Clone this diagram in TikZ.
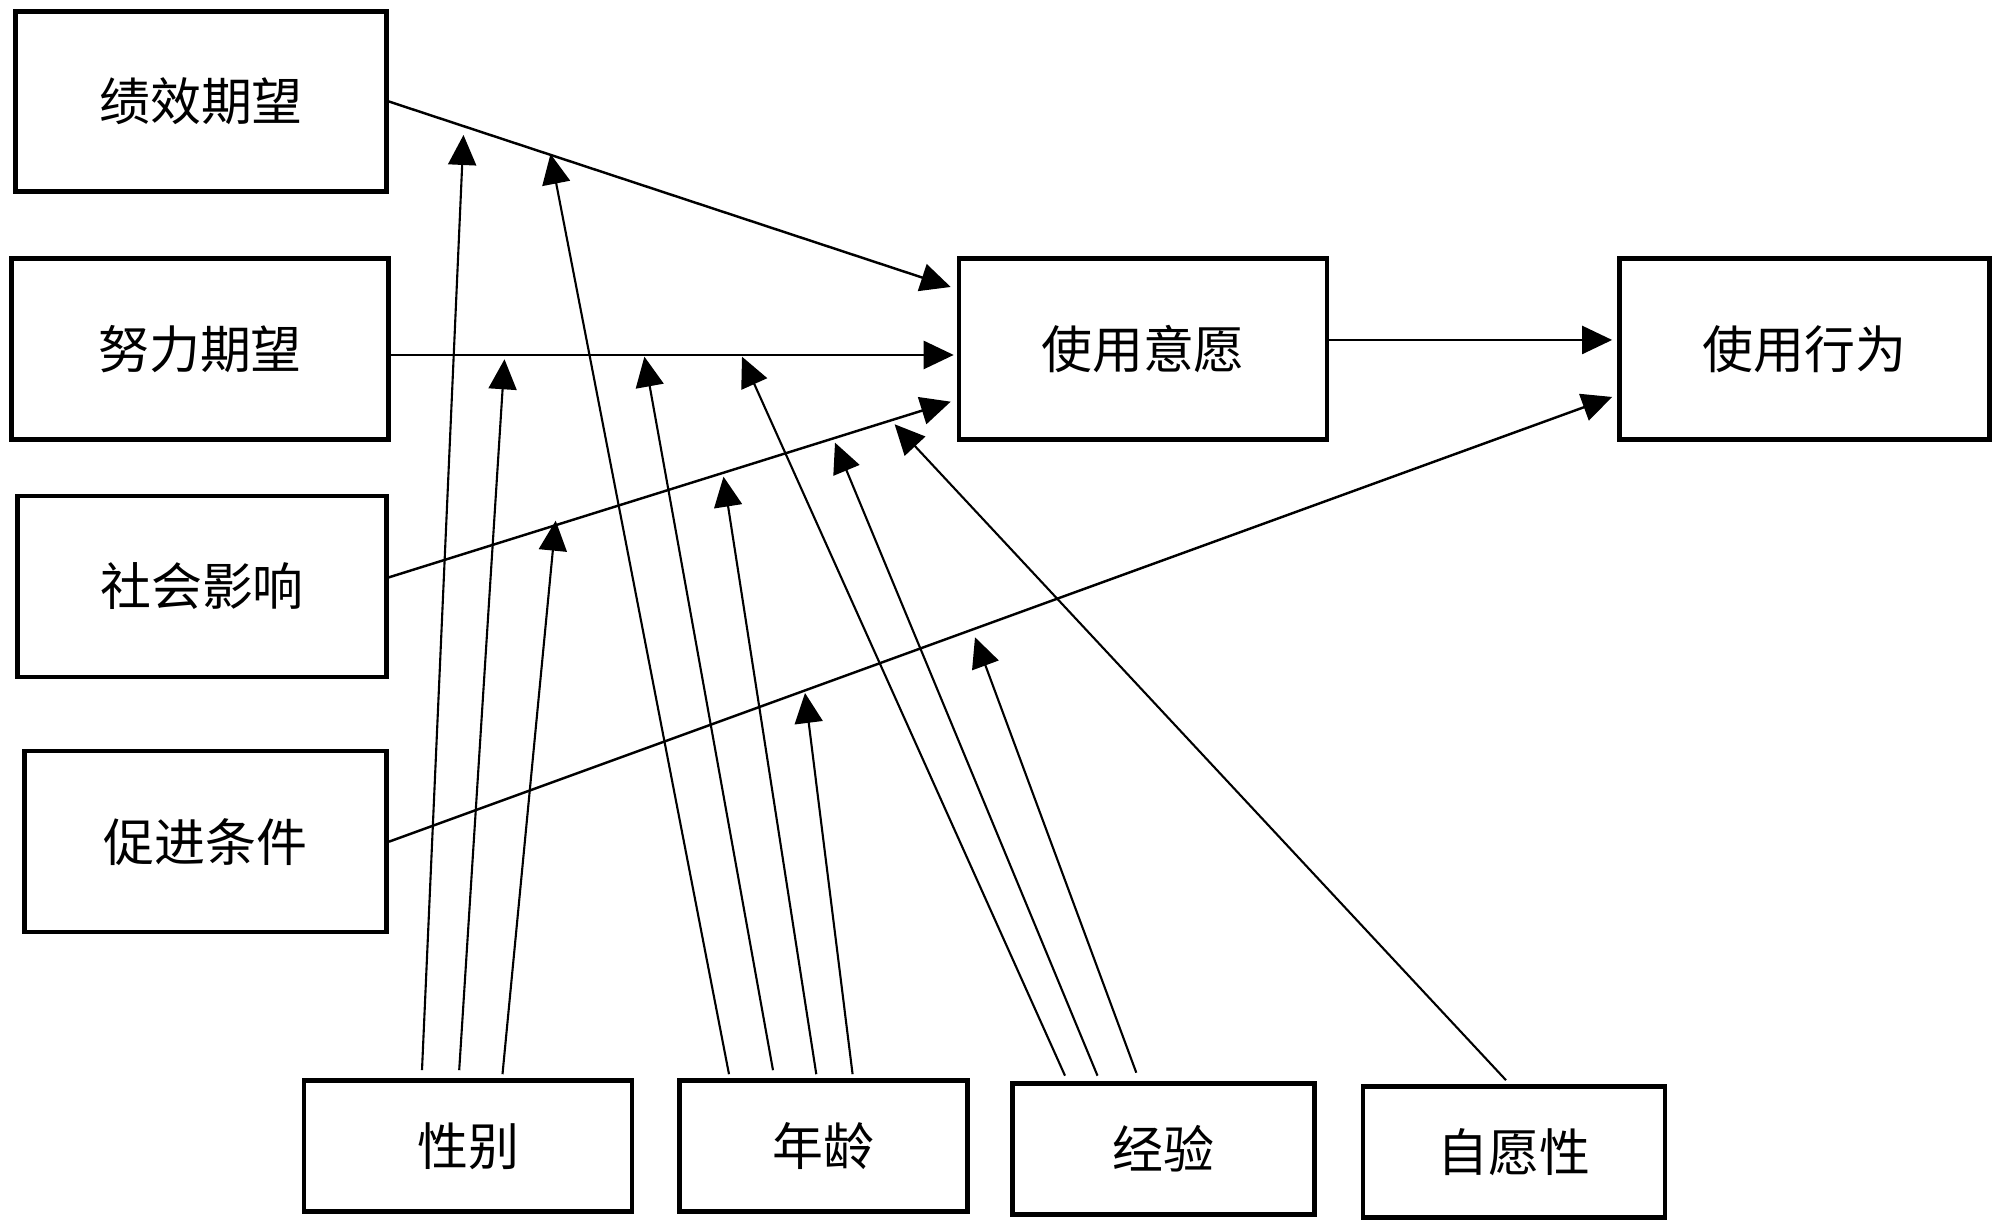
\documentclass[tikz,border=0pt]{standalone}
\usepackage{fontspec}
\setmainfont{Noto Sans CJK SC}
\usetikzlibrary{arrows.meta}

\begin{document}
\begin{tikzpicture}[factor/.style={draw, line width=1.3pt, inner sep=0pt, minimum height=1.81cm, font=\fontsize{14.5}{17}\selectfont},
    moderator/.style={factor, minimum height=1.31cm},
    link/.style={line width=0.7pt, -{Triangle[length=3mm,width=2.8mm]}},
    moder/.style={line width=0.6pt, -{Triangle[length=3mm,width=2.8mm]}}]
        \useasboundingbox (0,0) rectangle (20,12.31);

        \node[factor, minimum width=3.71cm, minimum height=1.8cm] (pe) at (2.01,11.295) {绩效期望};
        \node[factor, minimum width=3.77cm] (ee) at (2.00,8.82) {努力期望};
        \node[factor, minimum width=3.69cm] (si) at (2.02,6.446) {社会影响};
        \node[factor, minimum width=3.62cm] (fc) at (2.057,3.893) {促进条件};
        \node[factor, minimum width=3.68cm] (bi) at (11.43,8.82) {使用意愿};
        \node[factor, minimum width=3.70cm] (ub) at (18.044,8.82) {使用行为};

        \node[moderator, minimum width=3.28cm] (gd) at (4.68,0.85) {性别};
        \node[moderator, minimum width=2.88cm] (ag) at (8.235,0.85) {年龄};
        \node[moderator, minimum width=3.02cm] (ex) at (11.635,0.82) {经验};
        \node[moderator, minimum width=3.02cm] (vu) at (15.14,0.79) {自愿性};

        \draw[link] (pe.east) -- ([shift={(-0.06,0.62)}]bi.west);
        \draw[link] ([yshift=-0.06cm]ee.east) -- ([shift={(-0.03,-0.06)}]bi.west);
        \draw[link] ([yshift=0.09cm]si.east) -- ([shift={(-0.06,-0.527)}]bi.west);
        \draw[link] (fc.east) -- ([shift={(-0.05,-0.48)}]ub.west);
        \draw[link] ([yshift=0.09cm]bi.east) -- ([shift={(-0.05,0.09)}]ub.west);

        % points where the moderating arrows end
        \coordinate (gd-pe) at (4.635,10.96);
        \coordinate (gd-ee) at (5.045,8.717);
        \coordinate (gd-si) at (5.557,7.103);
        \coordinate (ag-pe) at (5.505,10.77);
        \coordinate (ag-ee) at (6.444,8.743);
        \coordinate (ag-si) at (7.235,7.543);
        \coordinate (ag-fc) at (8.05,5.38);
        \coordinate (ex-ee) at (7.42,8.743);
        \coordinate (ex-si) at (8.35,7.883);
        \coordinate (ex-fc) at (9.75,5.937);
        \coordinate (vu-si) at (8.946,8.067);

        \draw[moder] ([shift={(-0.46,0.08)}]gd.north) -- (gd-pe);
        \draw[moder] ([shift={(-0.088,0.08)}]gd.north) -- (gd-ee);
        \draw[moder] ([shift={(0.345,0.04)}]gd.north) -- (gd-si);
        \draw[moder] ([shift={(-0.945,0.04)}]ag.north) -- (ag-pe);
        \draw[moder] ([shift={(-0.505,0.08)}]ag.north) -- (ag-ee);
        \draw[moder] ([shift={(-0.072,0.04)}]ag.north) -- (ag-si);
        \draw[moder] ([shift={(0.291,0.04)}]ag.north) -- (ag-fc);
        \draw[moder] ([shift={(-0.985,0.055)}]ex.north) -- (ex-ee);
        \draw[moder] ([shift={(-0.66,0.055)}]ex.north) -- (ex-si);
        \draw[moder] ([shift={(-0.272,0.085)}]ex.north) -- (ex-fc);
        \draw[moder] ([shift={(-0.08,0.04)}]vu.north) -- (vu-si);
      \end{tikzpicture}
\end{document}
